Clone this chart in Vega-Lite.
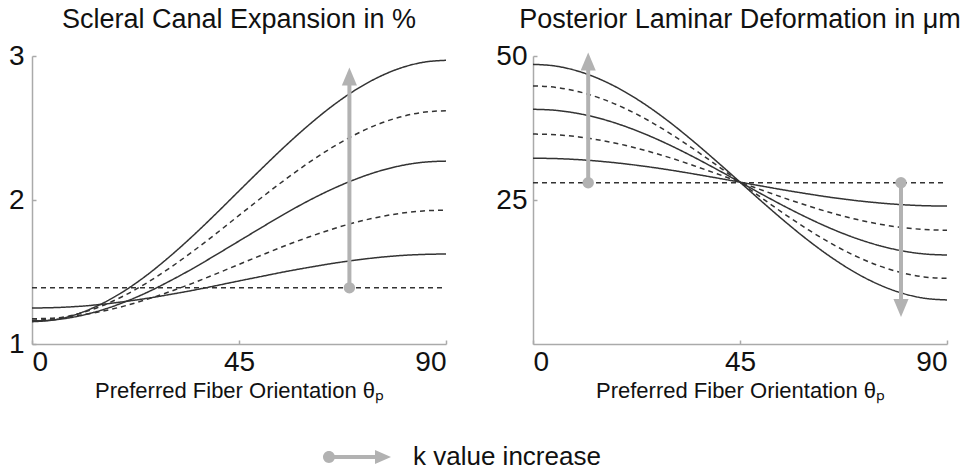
{
  "$schema": "https://vega.github.io/schema/vega-lite/v6.json",
  "padding": {"left": 8, "top": 6, "right": 5, "bottom": 5},
  "background": "white",
  "spacing": 87,
  "bounds": "flush",
  "config": {
    "view": {"stroke": null},
    "font": "Liberation Sans",
    "axis": {
      "grid": false,
      "domainColor": "#aaaaaa",
      "domainWidth": 1.5,
      "tickColor": "#aaaaaa",
      "tickWidth": 1.5,
      "tickSize": -4,
      "labelOverlap": false,
      "labelFont": "Liberation Sans",
      "labelFontSize": 28,
      "labelColor": "#111111",
      "titleFont": "Liberation Sans",
      "titleFontSize": 22,
      "titleFontWeight": "normal",
      "titleColor": "#111111"
    },
    "title": {"font": "Liberation Sans", "fontSize": 27, "fontWeight": "normal", "color": "#111111", "offset": 8},
    "legend": {
      "orient": "none",
      "legendX": 291,
      "legendY": 367,
      "title": null,
      "labelFont": "Liberation Sans",
      "labelFontSize": 26,
      "labelColor": "#111111",
      "labelLimit": 400,
      "symbolType": "M-1,0A0.176,0.176 0 1,1 -0.648,0A0.176,0.176 0 1,1 -1,0Z M-0.824,-0.059L0.53,-0.059L0.53,-0.206L1,0L0.53,0.206L0.53,0.059L-0.824,0.059Z",
      "symbolSize": 4624,
      "symbolStrokeWidth": 0,
      "symbolOpacity": 1,
      "labelOffset": 22
    }
  },
  "datasets": {
    "left": [
      {"s":"c1","x":0,"y":1.155},{"s":"c1","x":5,"y":1.169},{"s":"c1","x":10,"y":1.210},{"s":"c1","x":15,"y":1.277},{"s":"c1","x":20,"y":1.367},{"s":"c1","x":25,"y":1.479},{"s":"c1","x":30,"y":1.609},{"s":"c1","x":35,"y":1.752},{"s":"c1","x":40,"y":1.905},{"s":"c1","x":45,"y":2.063},{"s":"c1","x":50,"y":2.220},{"s":"c1","x":55,"y":2.373},{"s":"c1","x":60,"y":2.516},{"s":"c1","x":65,"y":2.646},{"s":"c1","x":70,"y":2.758},{"s":"c1","x":75,"y":2.848},{"s":"c1","x":80,"y":2.915},{"s":"c1","x":85,"y":2.956},{"s":"c1","x":90,"y":2.970},
      {"s":"c2","x":0,"y":1.165},{"s":"c2","x":5,"y":1.176},{"s":"c2","x":10,"y":1.209},{"s":"c2","x":15,"y":1.262},{"s":"c2","x":20,"y":1.335},{"s":"c2","x":25,"y":1.425},{"s":"c2","x":30,"y":1.529},{"s":"c2","x":35,"y":1.644},{"s":"c2","x":40,"y":1.766},{"s":"c2","x":45,"y":1.893},{"s":"c2","x":50,"y":2.019},{"s":"c2","x":55,"y":2.141},{"s":"c2","x":60,"y":2.256},{"s":"c2","x":65,"y":2.360},{"s":"c2","x":70,"y":2.450},{"s":"c2","x":75,"y":2.523},{"s":"c2","x":80,"y":2.576},{"s":"c2","x":85,"y":2.609},{"s":"c2","x":90,"y":2.620},
      {"s":"c3","x":0,"y":1.160},{"s":"c3","x":5,"y":1.168},{"s":"c3","x":10,"y":1.193},{"s":"c3","x":15,"y":1.234},{"s":"c3","x":20,"y":1.290},{"s":"c3","x":25,"y":1.358},{"s":"c3","x":30,"y":1.438},{"s":"c3","x":35,"y":1.525},{"s":"c3","x":40,"y":1.619},{"s":"c3","x":45,"y":1.715},{"s":"c3","x":50,"y":1.811},{"s":"c3","x":55,"y":1.905},{"s":"c3","x":60,"y":1.993},{"s":"c3","x":65,"y":2.072},{"s":"c3","x":70,"y":2.140},{"s":"c3","x":75,"y":2.196},{"s":"c3","x":80,"y":2.237},{"s":"c3","x":85,"y":2.262},{"s":"c3","x":90,"y":2.270},
      {"s":"c4","x":0,"y":1.175},{"s":"c4","x":5,"y":1.181},{"s":"c4","x":10,"y":1.198},{"s":"c4","x":15,"y":1.226},{"s":"c4","x":20,"y":1.263},{"s":"c4","x":25,"y":1.310},{"s":"c4","x":30,"y":1.364},{"s":"c4","x":35,"y":1.423},{"s":"c4","x":40,"y":1.487},{"s":"c4","x":45,"y":1.553},{"s":"c4","x":50,"y":1.618},{"s":"c4","x":55,"y":1.682},{"s":"c4","x":60,"y":1.741},{"s":"c4","x":65,"y":1.795},{"s":"c4","x":70,"y":1.842},{"s":"c4","x":75,"y":1.879},{"s":"c4","x":80,"y":1.907},{"s":"c4","x":85,"y":1.924},{"s":"c4","x":90,"y":1.930},
      {"s":"c5","x":0,"y":1.250},{"s":"c5","x":5,"y":1.253},{"s":"c5","x":10,"y":1.261},{"s":"c5","x":15,"y":1.275},{"s":"c5","x":20,"y":1.294},{"s":"c5","x":25,"y":1.317},{"s":"c5","x":30,"y":1.344},{"s":"c5","x":35,"y":1.373},{"s":"c5","x":40,"y":1.405},{"s":"c5","x":45,"y":1.438},{"s":"c5","x":50,"y":1.470},{"s":"c5","x":55,"y":1.502},{"s":"c5","x":60,"y":1.531},{"s":"c5","x":65,"y":1.558},{"s":"c5","x":70,"y":1.581},{"s":"c5","x":75,"y":1.600},{"s":"c5","x":80,"y":1.614},{"s":"c5","x":85,"y":1.622},{"s":"c5","x":90,"y":1.625},
      {"s":"c6","x":0,"y":1.39},{"s":"c6","x":90,"y":1.39}
    ],
    "right": [
      {"s":"c1","x":0,"y":48.55},{"s":"c1","x":5,"y":48.24},{"s":"c1","x":10,"y":47.32},{"s":"c1","x":15,"y":45.81},{"s":"c1","x":20,"y":43.77},{"s":"c1","x":25,"y":41.25},{"s":"c1","x":30,"y":38.33},{"s":"c1","x":35,"y":35.09},{"s":"c1","x":40,"y":31.65},{"s":"c1","x":45,"y":28.1},{"s":"c1","x":50,"y":24.55},{"s":"c1","x":55,"y":21.11},{"s":"c1","x":60,"y":17.88},{"s":"c1","x":65,"y":14.96},{"s":"c1","x":70,"y":12.43},{"s":"c1","x":75,"y":10.39},{"s":"c1","x":80,"y":8.88},{"s":"c1","x":85,"y":7.96},{"s":"c1","x":90,"y":7.65},
      {"s":"c2","x":0,"y":44.8},{"s":"c2","x":5,"y":44.55},{"s":"c2","x":10,"y":43.79},{"s":"c2","x":15,"y":42.56},{"s":"c2","x":20,"y":40.89},{"s":"c2","x":25,"y":38.84},{"s":"c2","x":30,"y":36.45},{"s":"c2","x":35,"y":33.81},{"s":"c2","x":40,"y":31.0},{"s":"c2","x":45,"y":28.1},{"s":"c2","x":50,"y":25.2},{"s":"c2","x":55,"y":22.39},{"s":"c2","x":60,"y":19.75},{"s":"c2","x":65,"y":17.37},{"s":"c2","x":70,"y":15.31},{"s":"c2","x":75,"y":13.64},{"s":"c2","x":80,"y":12.41},{"s":"c2","x":85,"y":11.65},{"s":"c2","x":90,"y":11.4},
      {"s":"c3","x":0,"y":40.75},{"s":"c3","x":5,"y":40.56},{"s":"c3","x":10,"y":39.99},{"s":"c3","x":15,"y":39.06},{"s":"c3","x":20,"y":37.79},{"s":"c3","x":25,"y":36.23},{"s":"c3","x":30,"y":34.43},{"s":"c3","x":35,"y":32.43},{"s":"c3","x":40,"y":30.3},{"s":"c3","x":45,"y":28.1},{"s":"c3","x":50,"y":25.9},{"s":"c3","x":55,"y":23.77},{"s":"c3","x":60,"y":21.78},{"s":"c3","x":65,"y":19.97},{"s":"c3","x":70,"y":18.41},{"s":"c3","x":75,"y":17.15},{"s":"c3","x":80,"y":16.21},{"s":"c3","x":85,"y":15.64},{"s":"c3","x":90,"y":15.45},
      {"s":"c4","x":0,"y":36.45},{"s":"c4","x":5,"y":36.32},{"s":"c4","x":10,"y":35.95},{"s":"c4","x":15,"y":35.33},{"s":"c4","x":20,"y":34.5},{"s":"c4","x":25,"y":33.47},{"s":"c4","x":30,"y":32.28},{"s":"c4","x":35,"y":30.96},{"s":"c4","x":40,"y":29.55},{"s":"c4","x":45,"y":28.1},{"s":"c4","x":50,"y":26.65},{"s":"c4","x":55,"y":25.24},{"s":"c4","x":60,"y":23.93},{"s":"c4","x":65,"y":22.73},{"s":"c4","x":70,"y":21.7},{"s":"c4","x":75,"y":20.87},{"s":"c4","x":80,"y":20.25},{"s":"c4","x":85,"y":19.88},{"s":"c4","x":90,"y":19.75},
      {"s":"c5","x":0,"y":32.25},{"s":"c5","x":5,"y":32.19},{"s":"c5","x":10,"y":32.0},{"s":"c5","x":15,"y":31.69},{"s":"c5","x":20,"y":31.28},{"s":"c5","x":25,"y":30.77},{"s":"c5","x":30,"y":30.18},{"s":"c5","x":35,"y":29.52},{"s":"c5","x":40,"y":28.82},{"s":"c5","x":45,"y":28.1},{"s":"c5","x":50,"y":27.38},{"s":"c5","x":55,"y":26.68},{"s":"c5","x":60,"y":26.03},{"s":"c5","x":65,"y":25.43},{"s":"c5","x":70,"y":24.92},{"s":"c5","x":75,"y":24.51},{"s":"c5","x":80,"y":24.2},{"s":"c5","x":85,"y":24.01},{"s":"c5","x":90,"y":23.95},
      {"s":"c6","x":0,"y":28.0},{"s":"c6","x":90,"y":28.0}
    ],
    "arrowsL": [
      {"x":69,"y":1.39,"yb":2.82,"yt":2.92,"dir":"up"}
    ],
    "arrowsR": [
      {"x":12,"y":28,"yb":48.0,"yt":50.6,"dir":"up"},
      {"x":80,"y":28,"yb":7.3,"yt":4.7,"dir":"down"}
    ]
  },
  "hconcat": [
    {
      "width": 414,
      "height": 288,
      "title": {"text": "Scleral Canal Expansion in %"},
      "layer": [
        {
          "data": {"name": "left"},
          "mark": {"type": "line", "interpolate": "monotone", "color": "#333333", "strokeWidth": 1.5},
          "encoding": {
            "x": {"field": "x", "type": "quantitative", "scale": {"domain": [0, 90], "nice": false}, "axis": {"values": [0, 45, 90], "title": "Preferred Fiber Orientation θₚ", "labelPadding": 8, "titlePadding": 4}},
            "y": {"field": "y", "type": "quantitative", "scale": {"domain": [1, 3], "nice": false, "zero": false}, "axis": {"values": [1, 2, 3], "format": ".0f", "labelOverlap": false, "labelSeparation": 0, "title": null, "labelPadding": 12}},
            "strokeDash": {"field": "s", "type": "nominal", "scale": {"domain": ["c1","c2","c3","c4","c5","c6"], "range": [[1,0],[5,4],[1,0],[5,4],[1,0],[5,4]]}, "legend": null}
          }
        },
        {
          "data": {"name": "arrowsL"},
          "mark": {"type": "rule", "color": "#b2b2b2", "strokeWidth": 4},
          "encoding": {
            "x": {"field": "x", "type": "quantitative"},
            "y": {"field": "y", "type": "quantitative"},
            "y2": {"field": "yb"}
          }
        },
        {
          "data": {"name": "arrowsL"},
          "mark": {"type": "point", "filled": true, "shape": "circle", "size": 130, "opacity": 1, "strokeWidth": 0},
          "encoding": {
            "x": {"field": "x", "type": "quantitative"},
            "y": {"field": "y", "type": "quantitative"},
            "color": {"datum": "k value increase", "type": "nominal", "scale": {"range": ["#b2b2b2"]}}
          }
        },
        {
          "data": {"name": "arrowsL"},
          "mark": {"type": "point", "filled": true, "size": 1296, "opacity": 1, "strokeWidth": 0, "color": "#b2b2b2"},
          "encoding": {
            "x": {"field": "x", "type": "quantitative"},
            "y": {"field": "yt", "type": "quantitative"},
            "shape": {"field": "dir", "type": "nominal", "scale": {"domain": ["up", "down"], "range": ["M0,0L0.42,1L-0.42,1Z", "M0,0L0.42,-1L-0.42,-1Z"]}, "legend": null}
          }
        }
      ]
    },
    {
      "width": 414,
      "height": 288,
      "title": {"text": "Posterior Laminar Deformation in μm"},
      "layer": [
        {
          "data": {"name": "right"},
          "mark": {"type": "line", "interpolate": "monotone", "color": "#333333", "strokeWidth": 1.5},
          "encoding": {
            "x": {"field": "x", "type": "quantitative", "scale": {"domain": [0, 90], "nice": false}, "axis": {"values": [0, 45, 90], "title": "Preferred Fiber Orientation θₚ", "labelPadding": 8, "titlePadding": 4}},
            "y": {"field": "y", "type": "quantitative", "scale": {"domain": [0, 50], "nice": false}, "axis": {"values": [25, 50], "title": null, "labelPadding": 10}},
            "strokeDash": {"field": "s", "type": "nominal", "scale": {"domain": ["c1","c2","c3","c4","c5","c6"], "range": [[1,0],[5,4],[1,0],[5,4],[1,0],[5,4]]}, "legend": null}
          }
        },
        {
          "data": {"name": "arrowsR"},
          "mark": {"type": "rule", "color": "#b2b2b2", "strokeWidth": 4},
          "encoding": {
            "x": {"field": "x", "type": "quantitative"},
            "y": {"field": "y", "type": "quantitative"},
            "y2": {"field": "yb"}
          }
        },
        {
          "data": {"name": "arrowsR"},
          "mark": {"type": "point", "filled": true, "shape": "circle", "size": 130, "opacity": 1, "strokeWidth": 0},
          "encoding": {
            "x": {"field": "x", "type": "quantitative"},
            "y": {"field": "y", "type": "quantitative"},
            "color": {"datum": "k value increase", "type": "nominal", "scale": {"range": ["#b2b2b2"]}}
          }
        },
        {
          "data": {"name": "arrowsR"},
          "mark": {"type": "point", "filled": true, "size": 1296, "opacity": 1, "strokeWidth": 0, "color": "#b2b2b2"},
          "encoding": {
            "x": {"field": "x", "type": "quantitative"},
            "y": {"field": "yt", "type": "quantitative"},
            "shape": {"field": "dir", "type": "nominal", "scale": {"domain": ["up", "down"], "range": ["M0,0L0.42,1L-0.42,1Z", "M0,0L0.42,-1L-0.42,-1Z"]}, "legend": null}
          }
        }
      ]
    }
  ]
}
